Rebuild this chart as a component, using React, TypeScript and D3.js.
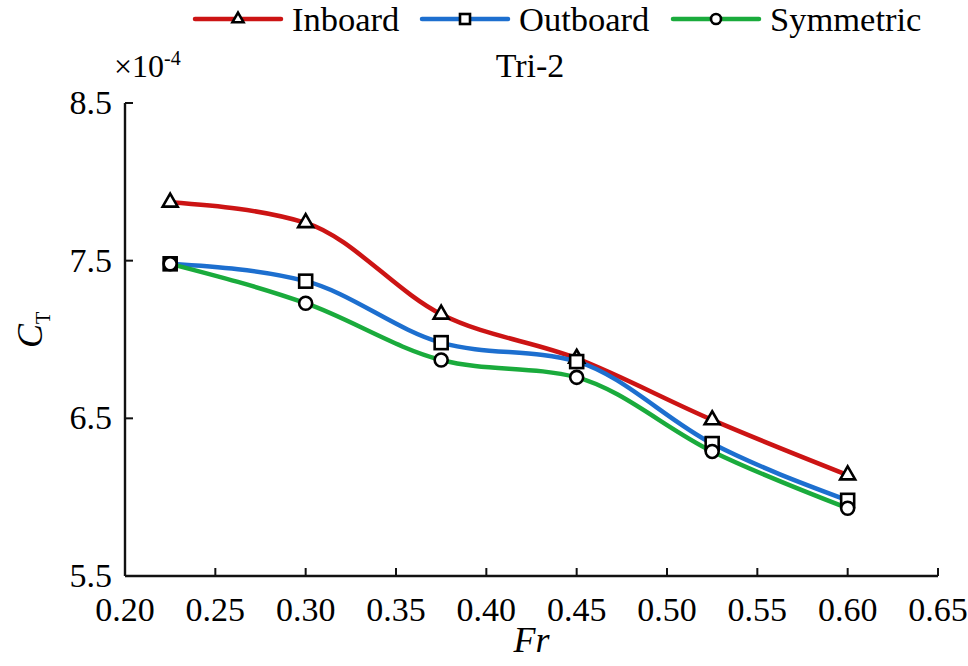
import * as d3 from "d3";
import { useEffect, useRef } from "react";

// Froude numbers tested and resistance coefficients (x 10^-4)
const frValues = [0.225, 0.3, 0.375, 0.45, 0.525, 0.6];
const inboard = [7.87, 7.74, 7.16, 6.88, 6.49, 6.14];
const outboard = [7.48, 7.37, 6.98, 6.86, 6.34, 5.98];
const symmetric = [7.48, 7.23, 6.87, 6.76, 6.29, 5.93];

const xTicks = [0.2, 0.25, 0.3, 0.35, 0.4, 0.45, 0.5, 0.55, 0.6, 0.65];
const yTicks = [5.5, 6.5, 7.5, 8.5];

const seriesNames = ["Inboard", "Outboard", "Symmetric"];

const WIDTH = 968;
const HEIGHT = 666;
const FONT = "Liberation Serif";

type Marker = "triangle" | "square" | "circle";

interface Series {
	name: string;
	values: number[];
	color: string;
	marker: Marker;
}

const series: Series[] = [
	{ name: seriesNames[0], values: inboard, color: "#cc1414", marker: "triangle" },
	{ name: seriesNames[1], values: outboard, color: "#1d6fcf", marker: "square" },
	{ name: seriesNames[2], values: symmetric, color: "#1aab3c", marker: "circle" },
];

function drawMarker(
	g: d3.Selection<SVGGElement, unknown, null, undefined>,
	marker: Marker,
	cx: number,
	cy: number,
	size: number,
) {
	const strokeWidth = 2.6;
	if (marker === "circle") {
		g.append("circle")
			.attr("cx", cx)
			.attr("cy", cy)
			.attr("r", size / 2)
			.attr("fill", "white")
			.attr("stroke", "black")
			.attr("stroke-width", strokeWidth);
	} else if (marker === "square") {
		g.append("rect")
			.attr("x", cx - size / 2)
			.attr("y", cy - size / 2)
			.attr("width", size)
			.attr("height", size)
			.attr("fill", "white")
			.attr("stroke", "black")
			.attr("stroke-width", strokeWidth);
	} else {
		const area = (Math.sqrt(3) / 4) * size * size;
		g.append("path")
			.attr("d", d3.symbol().type(d3.symbolTriangle).size(area)())
			.attr("transform", `translate(${cx},${cy})`)
			.attr("fill", "white")
			.attr("stroke", "black")
			.attr("stroke-width", strokeWidth)
			.attr("stroke-linejoin", "miter");
	}
}

export default function App() {
	const svgRef = useRef<SVGSVGElement>(null);

	useEffect(() => {
		if (!svgRef.current) return;
		const svg = d3.select(svgRef.current);
		svg.selectAll("*").remove();

		const x = d3.scaleLinear().domain([0.2, 0.65]).range([125, 938]);
		const y = d3.scaleLinear().domain([5.5, 8.5]).range([576, 103]);

		const root = svg.append("g").attr("font-family", FONT);

		// Axes: left and bottom lines only, ticks pointing inward
		const axisColor = "#111";
		root.append("line")
			.attr("x1", x(0.2))
			.attr("x2", x(0.65))
			.attr("y1", y(5.5))
			.attr("y2", y(5.5))
			.attr("stroke", axisColor)
			.attr("stroke-width", 2.4);
		root.append("line")
			.attr("x1", x(0.2))
			.attr("x2", x(0.2))
			.attr("y1", y(5.5))
			.attr("y2", y(8.5))
			.attr("stroke", axisColor)
			.attr("stroke-width", 2.4);

		xTicks.forEach((t) => {
			root.append("line")
				.attr("x1", x(t))
				.attr("x2", x(t))
				.attr("y1", y(5.5))
				.attr("y2", y(5.5) - 8)
				.attr("stroke", axisColor)
				.attr("stroke-width", 2);
			root.append("text")
				.attr("x", x(t))
				.attr("y", y(5.5) + 45)
				.attr("text-anchor", "middle")
				.attr("font-size", 34)
				.text(d3.format(".2f")(t));
		});

		yTicks.forEach((t) => {
			root.append("line")
				.attr("x1", x(0.2))
				.attr("x2", x(0.2) + 8)
				.attr("y1", y(t))
				.attr("y2", y(t))
				.attr("stroke", axisColor)
				.attr("stroke-width", 2);
			root.append("text")
				.attr("x", x(0.2) - 13)
				.attr("y", y(t) + 11)
				.attr("text-anchor", "end")
				.attr("font-size", 34)
				.text(d3.format(".1f")(t));
		});

		// Exponent and title
		const expo = root
			.append("text")
			.attr("x", 114)
			.attr("y", 77)
			.attr("font-size", 32);
		expo.append("tspan").text("\u00d710");
		expo.append("tspan")
			.attr("dy", -12)
			.attr("font-size", 20)
			.text("-4");

		root.append("text")
			.attr("x", 530)
			.attr("y", 77)
			.attr("text-anchor", "middle")
			.attr("font-size", 34)
			.text("Tri-2");

		// Axis titles
		root.append("text")
			.attr("x", x(0.425))
			.attr("y", 652)
			.attr("text-anchor", "middle")
			.attr("font-size", 36)
			.attr("font-style", "italic")
			.text("Fr");

		const yLabel = root
			.append("text")
			.attr("transform", `translate(42,330) rotate(-90)`)
			.attr("text-anchor", "middle")
			.attr("font-size", 36);
		yLabel.append("tspan").attr("font-style", "italic").text("C");
		yLabel.append("tspan")
			.attr("dy", 8)
			.attr("font-size", 20)
			.text("T");

		// Curves
		const line = d3
			.line<number>()
			.x((_, i) => x(frValues[i]))
			.y((d) => y(d))
			.curve(d3.curveMonotoneX);

		series.forEach((s) => {
			root.append("path")
				.attr("d", line(s.values) ?? "")
				.attr("fill", "none")
				.attr("stroke", s.color)
				.attr("stroke-width", 4.5)
				.attr("stroke-linecap", "round");
		});

		const markers = root.append("g");
		series.forEach((s) => {
			s.values.forEach((v, i) => {
				drawMarker(markers, s.marker, x(frValues[i]), y(v), s.marker === "triangle" ? 15 : 13);
			});
		});

		// Legend across the top
		const legend = root.append("g");
		const legendY = 19;
		const legendStarts = [195, 422, 673];
		series.forEach((s, i) => {
			const x0 = legendStarts[i];
			legend.append("line")
				.attr("x1", x0)
				.attr("x2", x0 + 86)
				.attr("y1", legendY)
				.attr("y2", legendY)
				.attr("stroke", s.color)
				.attr("stroke-width", 4.5)
				.attr("stroke-linecap", "round");
			drawMarker(legend, s.marker, x0 + 43, legendY, s.marker === "triangle" ? 11 : 10);
			legend.append("text")
				.attr("x", x0 + 97)
				.attr("y", legendY + 12)
				.attr("font-size", 34.5)
				.text(s.name);
		});
	}, []);

	return (
		<svg
			ref={svgRef}
			width={WIDTH}
			height={HEIGHT}
			style={{ position: "absolute", left: 0, top: 0, background: "white" }}
		/>
	);
}
